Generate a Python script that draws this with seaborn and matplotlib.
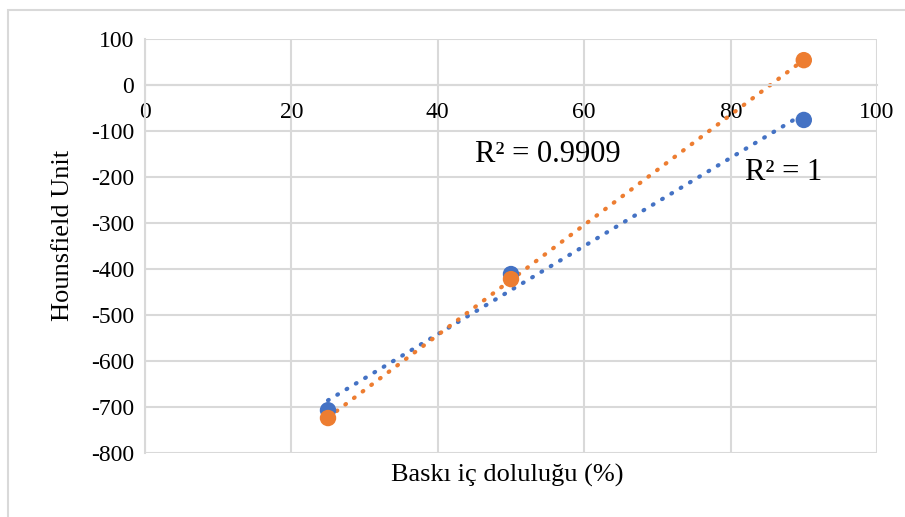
import matplotlib
matplotlib.use("Agg")
import matplotlib.pyplot as plt
import seaborn as sns
import pandas as pd
from matplotlib.patches import Rectangle

# Data
infill = [25, 50, 90]
hu_blue = [-707, -411, -76]
hu_orange = [-724, -422, 54]
r2_blue_label = "R² = 1"
r2_orange_label = "R² = 0.9909"
x_ticks = [0, 20, 40, 60, 80, 100]
y_ticks = [-800, -700, -600, -500, -400, -300, -200, -100, 0, 100]
x_label = "Baskı iç doluluğu (%)"
y_label = "Hounsfield Unit"

BLUE = "#4472C4"
ORANGE = "#ED7D31"
GRID = "#D9D9D9"

sns.set_theme(style="white")
plt.rcParams["font.family"] = ["Liberation Serif", "DejaVu Serif"]
plt.rcParams["text.color"] = "black"

fig = plt.figure(figsize=(9.05, 5.17), dpi=100)
ax = fig.add_axes([145/905, 1-453/517, (877-145)/905, (453-39)/517])

# outer chart frame
fig.patches.append(Rectangle((8/905, -0.1), 1.2, 1.1 - 10/517, transform=fig.transFigure,
                             fill=False, edgecolor=GRID, linewidth=1.5))

df_b = pd.DataFrame({"x": infill, "y": hu_blue})
df_o = pd.DataFrame({"x": infill, "y": hu_orange})

line_kw = dict(linestyle=(0, (0.2, 2.4)), linewidth=3.0, dash_capstyle="round")
sns.regplot(data=df_b, x="x", y="y", ax=ax, ci=None, scatter=False, truncate=True,
            line_kws=dict(color=BLUE, **line_kw))
sns.regplot(data=df_o, x="x", y="y", ax=ax, ci=None, scatter=False, truncate=True,
            line_kws=dict(color=ORANGE, **line_kw))
sns.scatterplot(data=df_b, x="x", y="y", ax=ax, color=BLUE, s=140, edgecolor="none", zorder=5)
sns.scatterplot(data=df_o, x="x", y="y", ax=ax, color=ORANGE, s=140, edgecolor="none", zorder=6)

ax.set_xlim(0, 100)
ax.set_ylim(-800, 100)
ax.grid(True, color=GRID, linewidth=1.5)
ax.set_axisbelow(True)
for s in ["top", "right"]:
    ax.spines[s].set_visible(False)
ax.spines["left"].set_color(GRID)
ax.spines["left"].set_linewidth(1.5)
ax.spines["bottom"].set_position(("data", 0))
ax.spines["bottom"].set_color(GRID)
ax.spines["bottom"].set_linewidth(1.5)
ax.set_xticks(x_ticks)
ax.set_yticks(y_ticks)
ax.set_xticklabels([str(t) for t in x_ticks])
ax.set_yticklabels([str(t) for t in y_ticks])
ax.tick_params(axis="both", length=0, colors="black", labelcolor="black", labelsize=17)
ax.tick_params(axis="x", pad=12)
ax.tick_params(axis="y", pad=8)

ax.set_xlabel("")
ax.set_ylabel("")
fig.text((390+625)/2/905, 1-475/517, x_label, fontsize=19, ha="center", va="center", color="black")
fig.text(63/905, 1-235/517, y_label, fontsize=19, ha="center", va="center", rotation=90, color="black")

ax.text(45.1, -152, r2_orange_label, fontsize=22, ha="left", va="center", color="black")
ax.text(82.0, -191, r2_blue_label, fontsize=22, ha="left", va="center", color="black")

fig.savefig("out.png", dpi=100)
